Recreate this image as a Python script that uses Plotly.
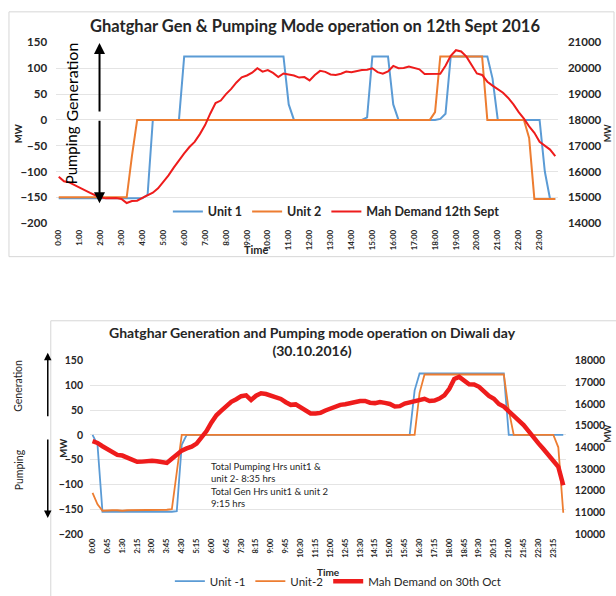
import plotly.graph_objects as go

W, H = 616, 596

# 15-minute time categories (96 per day)
times = ["0:00", "0:15", "0:30", "0:45", "1:00", "1:15", "1:30", "1:45",
         "2:00", "2:15", "2:30", "2:45", "3:00", "3:15", "3:30", "3:45",
         "4:00", "4:15", "4:30", "4:45", "5:00", "5:15", "5:30", "5:45",
         "6:00", "6:15", "6:30", "6:45", "7:00", "7:15", "7:30", "7:45",
         "8:00", "8:15", "8:30", "8:45", "9:00", "9:15", "9:30", "9:45",
         "10:00", "10:15", "10:30", "10:45", "11:00", "11:15", "11:30", "11:45",
         "12:00", "12:15", "12:30", "12:45", "13:00", "13:15", "13:30", "13:45",
         "14:00", "14:15", "14:30", "14:45", "15:00", "15:15", "15:30", "15:45",
         "16:00", "16:15", "16:30", "16:45", "17:00", "17:15", "17:30", "17:45",
         "18:00", "18:15", "18:30", "18:45", "19:00", "19:15", "19:30", "19:45",
         "20:00", "20:15", "20:30", "20:45", "21:00", "21:15", "21:30", "21:45",
         "22:00", "22:15", "22:30", "22:45", "23:00", "23:15", "23:30", "23:45"]

sept_ticks = times[0::4]
oct_ticks = times[0::3]

# ---- 12th Sept 2016 ----
sept_unit1 = [-152, -152, -153, -152, -152, -152, -152, -152, -152, -152, -152, -152,
              -152, -152, -152, -152, -152, -145, 0, 0, 0, 0, 0, 0,
              123, 123, 123, 123, 123, 123, 123, 123, 123, 123, 123, 123,
              123, 123, 123, 123, 123, 123, 123, 123, 30, 0, 0, 0,
              0, 0, 0, 0, 0, 0, 0, 0, 0, 0, 0, 5,
              123, 123, 123, 123, 30, 0, 0, 0, 0, 0, 0, 0,
              0, 2, 12, 123, 123, 123, 123, 123, 123, 123, 123, 80,
              0, 0, 0, 0, 0, 0, 0, 0, 0, -100, -153, -153]

sept_unit2 = [-150, -150, -150, -150, -150, -150, -150, -150, -150, -150, -150, -150,
              -150, -150, -70, 0, 0, 0, 0, 0, 0, 0, 0, 0,
              0, 0, 0, 0, 0, 0, 0, 0, 0, 0, 0, 0,
              0, 0, 0, 0, 0, 0, 0, 0, 0, 0, 0, 0,
              0, 0, 0, 0, 0, 0, 0, 0, 0, 0, 0, 0,
              0, 0, 0, 0, 0, 0, 0, 0, 0, 0, 0, 0,
              15, 123, 123, 123, 123, 123, 123, 123, 123, 123, 0, 0,
              0, 0, 0, 0, 0, 0, -35, -153, -153, -153, -153, -153]

sept_demand = [15800, 15620, 15580, 15470, 15380, 15280, 15170, 15080, 15000, 14960,
               14960, 14970, 14940, 14780, 14860, 14870, 14980, 15080, 15180, 15350,
               15600, 15850, 16150, 16450, 16700, 16950, 17150, 17450, 17800, 18250,
               18650, 18750, 19000, 19200, 19450, 19650, 19720, 19830, 20000, 19870,
               19930, 19820, 19660, 19800, 19750, 19720, 19640, 19660, 19530, 19740,
               19900, 19860, 19760, 19740, 19790, 19870, 19850, 19900, 19930, 19940,
               20000, 19850, 19790, 19880, 20090, 20000, 20010, 20070, 20010, 19960,
               19780, 19780, 19780, 19790, 20100, 20480, 20700, 20650, 20450, 20130,
               19800, 19740, 19480, 19330, 19180, 19050, 18850, 18600, 18300, 18050,
               17750, 17500, 17150, 17000, 16850, 16600]

# ---- 30th Oct 2016 (Diwali) ----
oct_unit1 = [0, -20, -155, -155, -156, -155, -155, -155, -156, -155, -155, -155,
             -155, -155, -155, -155, -155, -154, -20, 0, 0, 0, 0, 0,
             0, 0, 0, 0, 0, 0, 0, 0, 0, 0, 0, 0,
             0, 0, 0, 0, 0, 0, 0, 0, 0, 0, 0, 0,
             0, 0, 0, 0, 0, 0, 0, 0, 0, 0, 0, 0,
             0, 0, 0, 0, 0, 90, 124, 124, 124, 124, 124, 124,
             124, 124, 124, 124, 124, 124, 124, 124, 124, 124, 124, 124,
             0, 0, 0, 0, 0, 0, 0, 0, 0, 0, 0, 0]

oct_unit2 = [-117, -140, -153, -152, -152, -152, -153, -152, -152, -152, -152, -152,
             -152, -151, -151, -151, -150, -78, 0, 0, 0, 0, 0, 0,
             0, 0, 0, 0, 0, 0, 0, 0, 0, 0, 0, 0,
             0, 0, 0, 0, 0, 0, 0, 0, 0, 0, 0, 0,
             0, 0, 0, 0, 0, 0, 0, 0, 0, 0, 0, 0,
             0, 0, 0, 0, 0, 0, 85, 122, 122, 122, 122, 122,
             122, 122, 122, 122, 122, 122, 122, 122, 122, 122, 122, 122,
             50, 0, 0, 0, 0, 0, 0, 0, 0, 0, -25, -157]

oct_demand = [14280, 14200, 14050, 13930, 13790, 13650, 13620, 13510, 13420, 13330,
              13340, 13380, 13380, 13360, 13320, 13280, 13470, 13650, 13850, 13950,
              14030, 14170, 14450, 14750, 15150, 15480, 15690, 15890, 16100, 16220,
              16360, 16400, 16180, 16380, 16490, 16460, 16380, 16300, 16230, 16080,
              15960, 15980, 15840, 15700, 15560, 15560, 15590, 15700, 15790, 15900,
              15960, 15990, 16050, 16120, 16140, 16140, 16060, 16040, 16090, 16050,
              16000, 15880, 15900, 16020, 16080, 16130, 16200, 16240, 16140, 16160,
              16250, 16400, 16700, 17150, 17250, 17080, 16910, 16900, 16790, 16580,
              16370, 16240, 16000, 15880, 15680, 15450, 15230, 15030, 14750, 14430,
              14180, 13920, 13650, 13450, 13100, 12250]

BLUE = "#5B9BD5"
ORANGE = "#ED7D31"
RED = "#EE1C1C"
FONT = "Lato"
TXT = "#262626"


def px(x):
    return x / W


def py(y):
    return 1 - y / H


fig = go.Figure()

fig.add_trace(go.Scatter(x=times, y=sept_unit1, name="Unit 1", mode="lines",
                         line=dict(color=BLUE, width=2), xaxis="x", yaxis="y", legend="legend"))
fig.add_trace(go.Scatter(x=times, y=sept_unit2, name="Unit 2", mode="lines",
                         line=dict(color=ORANGE, width=2), xaxis="x", yaxis="y", legend="legend"))
fig.add_trace(go.Scatter(x=times, y=sept_demand, name="Mah Demand 12th Sept", mode="lines",
                         line=dict(color=RED, width=2), xaxis="x", yaxis="y2", legend="legend"))

fig.add_trace(go.Scatter(x=times, y=oct_unit1, name="Unit -1", mode="lines",
                         line=dict(color=BLUE, width=1.8), xaxis="x2", yaxis="y3", legend="legend2"))
fig.add_trace(go.Scatter(x=times, y=oct_unit2, name="Unit-2", mode="lines",
                         line=dict(color=ORANGE, width=1.8), xaxis="x2", yaxis="y3", legend="legend2"))
fig.add_trace(go.Scatter(x=times, y=oct_demand, name="Mah Demand on 30th Oct", mode="lines",
                         line=dict(color=RED, width=4.5), xaxis="x2", yaxis="y4", legend="legend2"))

tickfont_y = dict(family=FONT, size=11.5, color=TXT, weight="bold")
tickfont_x = dict(family=FONT, size=8, color=TXT, weight="bold")
tickfont_x2 = dict(family=FONT, size=7.5, color=TXT, weight="bold")
tickfont_y2 = dict(family=FONT, size=10.5, color=TXT, weight="bold")
GRID = "#E4E4E4"

fig.update_layout(
    width=W, height=H, autosize=False,
    margin=dict(l=0, r=0, t=0, b=0),
    paper_bgcolor="white", plot_bgcolor="white",
    font=dict(family=FONT, color=TXT),
    showlegend=True,
    hovermode=False,
    xaxis=dict(domain=[px(53.4), px(557.6)], anchor="y", type="category",
               range=[-0.5, 95.5], tickmode="array", tickvals=sept_ticks, ticktext=sept_ticks,
               tickangle=-90, showgrid=False, zeroline=False, showline=False, ticks="",
               tickfont=tickfont_x, ticklabelstandoff=4),
    yaxis=dict(domain=[py(222.5), py(36.5)], anchor="x", range=[-200, 150], dtick=50,
               showgrid=True, gridcolor=GRID, zeroline=False, showline=False, ticks="",
               tickfont=tickfont_y, ticklabelstandoff=8),
    yaxis2=dict(overlaying="y", anchor="x", side="right", range=[14000, 21000], dtick=1000,
                tickformat="d", showgrid=False, zeroline=False, showline=False, ticks="",
                tickfont=tickfont_y, ticklabelstandoff=9),
    xaxis2=dict(domain=[px(87.5), px(565.5)], anchor="y3", type="category",
                range=[-0.5, 95.5], tickmode="array", tickvals=oct_ticks, ticktext=oct_ticks,
                tickangle=-90, showgrid=False, zeroline=False, showline=False, ticks="",
                tickfont=tickfont_x2, ticklabelstandoff=2),
    yaxis3=dict(domain=[py(542.5), py(364)], anchor="x2", range=[-200, 150], dtick=50,
                showgrid=True, gridcolor=GRID, zeroline=False, showline=False, ticks="",
                tickfont=tickfont_y2, ticklabelstandoff=6),
    yaxis4=dict(overlaying="y3", anchor="x2", side="right", range=[10000, 18000], dtick=1000,
                tickformat="d", showgrid=False, zeroline=False, showline=False, ticks="",
                tickfont=tickfont_y2, ticklabelstandoff=8),
    legend=dict(orientation="h", x=px(335), xanchor="center", y=py(211), yanchor="middle",
                bgcolor="rgba(0,0,0,0)", font=dict(family=FONT, size=12.5, color=TXT, weight="bold"),
                itemwidth=30, tracegroupgap=0),
    legend2=dict(orientation="h", x=px(337), xanchor="center", y=py(591), yanchor="middle",
                 bgcolor="rgba(0,0,0,0)", font=dict(family=FONT, size=11.5, color=TXT),
                 itemwidth=30, tracegroupgap=0),
)

shapes = [
    dict(type="rect", xref="paper", yref="paper", x0=px(6), x1=px(614), y0=py(257), y1=py(5),
         line=dict(color="#D6D6D6", width=1), layer="below"),
    dict(type="rect", xref="paper", yref="paper", x0=px(48), x1=px(640), y0=py(620), y1=py(323),
         line=dict(color="#D6D6D6", width=1), layer="below"),
]

annotations = [
    dict(text="<b>Ghatghar Gen &amp; Pumping Mode operation on 12th Sept 2016</b>", x=px(314), y=py(20),
         font=dict(family=FONT, size=16.5, color=TXT)),
    dict(text="<b>Ghatghar Generation and Pumping mode operation on Diwali day<br>(30.10.2016)</b>",
         x=px(311), y=py(344), font=dict(family=FONT, size=14, color=TXT)),
    dict(text="<b>MW</b>", x=px(15), y=py(130), textangle=-90, font=dict(family=FONT, size=9.5, color=TXT)),
    dict(text="<b>MW</b>", x=px(607), y=py(130), textangle=-90, font=dict(family=FONT, size=9, color=TXT)),
    dict(text="<b>MW</b>", x=px(60), y=py(454), textangle=-90, font=dict(family=FONT, size=9.5, color=TXT)),
    dict(text="<b>MW</b>", x=px(607), y=py(439), textangle=-90, font=dict(family=FONT, size=9, color=TXT)),
    dict(text="Generation", x=px(69), y=py(77), textangle=-90, font=dict(family=FONT, size=16, color="black")),
    dict(text="Pumping", x=px(68), y=py(153), textangle=-90, font=dict(family=FONT, size=15, color="black")),
    dict(text="Generation", x=px(15), y=py(390), textangle=-90, font=dict(family=FONT, size=10.5, color=TXT)),
    dict(text="Pumping", x=px(17), y=py(476), textangle=-90, font=dict(family=FONT, size=10.5, color=TXT)),
    dict(text="<b>Time</b>", x=px(255), y=py(250), font=dict(family=FONT, size=11, color=TXT)),
    dict(text="<b>Time</b>", x=px(327), y=py(582), font=dict(family=FONT, size=10, color=TXT)),
    dict(text="Total Pumping Hrs unit1 &amp;<br>unit 2- 8:35 hrs<br>Total Gen Hrs unit1 &amp; unit 2<br>9:15 hrs",
         x=px(207), y=py(465), xanchor="left", yanchor="top", align="left",
         font=dict(family=FONT, size=9.5, color=TXT)),
    # arrows
    dict(text="", x=px(97), y=py(37), ax=0, ay=70, showarrow=True, arrowhead=2, arrowsize=1.1,
         arrowwidth=2, arrowcolor="black"),
    dict(text="", x=px(97), y=py(202), ax=0, ay=-84, showarrow=True, arrowhead=2, arrowsize=1.1,
         arrowwidth=2, arrowcolor="black"),
    dict(text="", x=px(45), y=py(356), ax=0, ay=65, showarrow=True, arrowhead=2, arrowsize=1,
         arrowwidth=1.5, arrowcolor="black"),
    dict(text="", x=px(45), y=py(526), ax=0, ay=-80, showarrow=True, arrowhead=2, arrowsize=1,
         arrowwidth=1.5, arrowcolor="black"),
]
for a in annotations:
    a.setdefault("xref", "paper")
    a.setdefault("yref", "paper")
    a.setdefault("showarrow", False)
    a.setdefault("xanchor", "center")
    a.setdefault("yanchor", "middle")

fig.update_layout(shapes=shapes, annotations=annotations)

fig.write_html("out.html",
               config={"displayModeBar": False},
               post_script="document.body.style.margin='0';document.body.style.overflow='hidden';")
